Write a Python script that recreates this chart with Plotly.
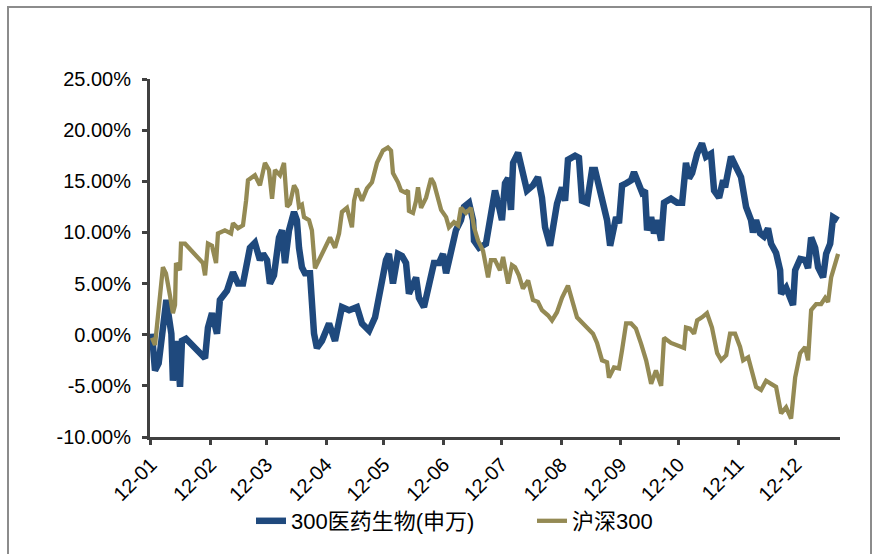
import plotly.graph_objects as go

# ---- data (day offset from 2012-01-01, cumulative return in %) ----
month_ticks = [0, 31, 60, 91, 121, 152, 182, 213, 244, 274, 305, 335]
month_labels = ["12-01", "12-02", "12-03", "12-04", "12-05", "12-06",
                "12-07", "12-08", "12-09", "12-10", "12-11", "12-12"]
y_ticks = [-10, -5, 0, 5, 10, 15, 20, 25]

med_days = [0.5, 2.1, 4.0, 8.0, 10.6, 11.4, 13.5, 15.1, 16.1, 18.2, 28.1, 29.6, 31.7, 34.3, 35.8,
            39.5, 42.6, 45.2, 47.8, 49.4, 51.4, 54.0, 56.6, 58.2, 60.3, 61.8, 63.9, 66.5, 68.1,
            69.6, 71.7, 74.3, 75.8, 76.9, 78.4, 80.0, 82.6, 84.7, 86.2, 88.8, 92.5, 95.6, 99.2,
            102.9, 107.0, 109.6, 113.3, 116.4, 119.5, 122.1, 123.6, 125.7, 128.3, 130.4, 132.5,
            134.0, 137.7, 139.2, 141.8, 144.4, 147.0, 149.6, 151.7, 153.3, 155.9, 158.4, 161.0,
            162.6, 165.2, 167.3, 167.8, 170.4, 174.0, 176.6, 178.7, 180.8, 182.3, 183.9, 185.5,
            187.0, 188.1, 190.7, 193.2, 195.3, 198.4, 201.0, 203.1, 204.7, 207.3, 210.9, 213.5,
            215.1, 216.6, 220.3, 222.3, 223.9, 226.5, 229.1, 230.7, 232.2, 234.8, 236.9, 238.5,
            241.6, 243.1, 244.7, 246.8, 249.4, 250.9, 252.5, 255.1, 256.6, 257.7, 259.8, 261.3,
            262.9, 265.0, 266.5, 270.1, 273.3, 275.9, 277.9, 279.5, 281.1, 283.7, 286.2, 288.3,
            290.9, 292.5, 295.1, 297.2, 298.2, 301.3, 303.9, 306.5, 309.1, 311.7, 312.7, 314.3,
            316.4, 318.4, 320.5, 322.1, 324.7, 326.8, 327.3, 329.9, 332.0, 333.5, 334.6, 337.2,
            339.8, 341.3, 342.9, 345.0, 346.5, 349.1, 350.7, 352.8, 354.3, 356.9]
med_vals = [0.1, -3.5, -2.8, 3.4, 0.1, -4.5, -0.6, -5.1, -0.6, -0.4, -2.3, 0.7, 2.1, 0.1, 3.4,
            4.3, 6.1, 5.0, 5.0, 7.0, 8.5, 9.0, 7.3, 7.9, 7.3, 5.0, 5.8, 9.5, 10.2,
            7.0, 10.2, 12.0, 11.2, 8.5, 6.6, 6.0, 6.0, 0.1, -1.3, -0.6, 1.1, -0.6, 2.7,
            2.4, 2.7, 1.1, 0.4, 1.7, 5.0, 7.3, 7.9, 5.0, 7.9, 7.7, 7.0,
            4.0, 5.6, 3.6, 2.7, 4.6, 7.0, 7.0, 7.9, 6.0, 7.9, 10.2, 11.2,
            12.5, 12.9, 11.2, 9.2, 8.5, 8.9, 11.8, 14.1, 12.5, 11.2, 14.8, 15.3,
            12.2, 16.8, 17.8, 15.8, 14.1, 14.6, 15.4, 13.4, 10.5, 8.7, 12.8, 14.4,
            13.1, 17.1, 17.5, 17.3, 13.1, 12.9, 16.1, 16.1, 14.9, 13.4, 11.2, 8.7,
            11.5, 10.9, 14.6, 14.8, 15.1, 15.9, 15.1, 13.9, 14.1, 10.2, 11.5, 9.9,
            11.2, 9.2, 12.9, 13.3, 12.9, 12.9, 16.8, 15.3, 15.8, 17.7, 18.7, 17.4,
            17.7, 14.1, 13.4, 15.1, 14.4, 17.4, 16.4, 15.4, 12.5, 11.2, 10.0, 11.2,
            9.9, 9.6, 10.4, 8.9, 8.0, 6.3, 4.0, 4.6, 3.6, 2.9, 6.3, 7.4,
            7.3, 6.5, 9.5, 8.5, 6.6, 5.6, 7.9, 8.9, 11.5, 11.2]

hs_days = [0.5, 2.1, 6.2, 7.8, 9.9, 11.4, 12.5, 13.0, 15.1, 15.6, 17.7, 27.0, 28.1, 29.6, 31.7,
           33.8, 34.8, 38.4, 41.6, 42.6, 45.2, 47.8, 49.4, 50.4, 54.0, 56.6, 59.2, 61.3, 62.9,
           64.4, 67.0, 69.1, 70.7, 72.2, 74.3, 75.8, 76.9, 78.4, 79.5, 82.1, 83.6, 85.2, 87.3,
           90.4, 93.0, 95.6, 97.7, 99.2, 101.8, 104.4, 105.5, 107.0, 109.6, 112.2, 114.8, 117.4,
           120.5, 123.1, 124.7, 125.7, 128.3, 129.9, 132.0, 133.5, 134.0, 136.1, 137.7, 138.7,
           140.3, 142.9, 145.5, 147.0, 149.1, 150.7, 153.3, 154.8, 157.4, 159.5, 161.0, 163.6,
           166.2, 167.8, 169.9, 172.5, 175.1, 176.6, 178.7, 181.3, 182.9, 185.5, 187.5, 189.1,
           191.1, 193.2, 195.9, 198.4, 201.0, 203.1, 206.2, 208.3, 210.9, 213.5, 216.6, 218.7,
           221.3, 224.4, 228.1, 229.6, 231.7, 234.3, 236.9, 237.9, 240.5, 243.1, 244.7, 246.8,
           249.4, 251.9, 254.6, 257.2, 259.8, 262.3, 265.0, 266.5, 270.1, 273.3, 276.9, 277.9,
           280.0, 282.1, 283.7, 286.2, 288.8, 291.4, 294.1, 296.2, 298.8, 300.8, 303.4, 306.0,
           307.6, 310.2, 311.7, 314.3, 316.9, 319.5, 322.1, 324.7, 327.3, 329.9, 332.5, 334.6,
           337.2, 339.8, 341.3, 342.9, 345.5, 348.1, 350.2, 351.7, 353.3, 355.4, 356.9]
hs_vals = [-0.3, -1.0, 6.6, 6.0, 3.8, 2.1, 2.9, 7.0, 6.3, 8.9, 8.9, 7.0, 5.8, 8.9, 8.7,
           7.0, 9.9, 10.2, 9.9, 10.9, 10.4, 10.7, 13.1, 15.1, 15.6, 14.6, 16.8, 16.1, 13.3,
           16.1, 15.6, 16.8, 12.5, 12.8, 14.6, 14.1, 12.5, 12.7, 11.5, 11.2, 10.2, 6.5, 7.3,
           8.5, 9.5, 8.5, 9.9, 12.0, 12.4, 10.5, 13.1, 14.3, 13.1, 14.3, 14.9, 16.8,
           18.0, 18.3, 18.0, 15.8, 14.9, 14.1, 13.9, 14.1, 12.1, 11.9, 13.1, 14.4,
           12.4, 13.4, 15.3, 14.8, 13.4, 12.2, 11.5, 10.5, 11.0, 10.7, 12.4, 11.9,
           12.4, 10.5, 9.2, 8.2, 5.6, 7.3, 7.3, 6.3, 7.6, 5.0, 6.8, 6.6,
           5.8, 4.5, 5.3, 3.4, 3.2, 2.4, 1.9, 1.4, 2.2, 3.6, 4.8, 3.4,
           1.7, 1.1, 0.4, 0.1, -0.8, -2.5, -2.7, -4.2, -3.2, -3.3, -1.5, 1.1,
           1.1, 0.6, -0.9, -2.5, -4.8, -3.5, -5.0, -0.3, -0.8, -1.0, -1.3, 0.7,
           0.6, 0.1, 1.4, 1.7, 2.1, 0.7, -1.8, -2.5, -2.0, 0.1, 0.1, -1.2,
           -2.5, -2.2, -3.2, -5.1, -5.4, -4.5, -4.8, -5.1, -7.7, -7.1, -8.2, -4.2,
           -1.8, -1.2, -2.5, 2.4, 3.0, 3.0, 3.6, 3.2, 5.6, 7.0, 7.9]

series_names = ["300医药生物(申万)", "沪深300"]
series_colors = ["#1F497D", "#948A54"]

fig = go.Figure()
fig.add_trace(go.Scatter(x=med_days, y=med_vals, mode="lines", name=series_names[0],
                         line=dict(color=series_colors[0], width=6.5)))
fig.add_trace(go.Scatter(x=hs_days, y=hs_vals, mode="lines", name=series_names[1],
                         line=dict(color=series_colors[1], width=4.3)))

W, H = 876, 554
L, R, T, B = 150, 36, 79, 117
pw, ph = W - L - R, H - T - B

def px2paper_x(px):
    return (px - L) / pw

def px2paper_y(py):
    return (H - B - py) / ph

axis_col = "#404040"
fig.update_layout(
    width=W, height=H,
    margin=dict(l=L, r=R, t=T, b=B, pad=0, autoexpand=False),
    paper_bgcolor="white", plot_bgcolor="white",
    font=dict(family="Liberation Sans, Arial, Noto Sans CJK SC", size=20, color="#000000"),
    showlegend=True,
    legend=dict(orientation="h", x=px2paper_x(251), xanchor="left",
                y=px2paper_y(500), yanchor="top",
                font=dict(family="Liberation Sans, Noto Sans CJK SC", size=22, color="#000000"),
                bgcolor="rgba(0,0,0,0)", itemwidth=30, entrywidth=236, tracegroupgap=0),
    xaxis=dict(range=[-0.5, 357.9], tickmode="array", tickvals=month_ticks,
               ticktext=month_labels, tickangle=-45, showgrid=False, zeroline=False,
               showline=True, linecolor=axis_col, linewidth=3, automargin=False,
               ticks="outside", ticklen=5, tickwidth=3, tickcolor=axis_col,
               tickfont=dict(size=20, family="Liberation Sans, Arial")),
    yaxis=dict(range=[-10, 25], tickmode="array", tickvals=y_ticks,
               ticktext=[f"{v:.2f}%" for v in y_ticks], showgrid=False, zeroline=False,
               showline=True, linecolor=axis_col, linewidth=3, automargin=False,
               ticks="outside", ticklen=5, tickwidth=3, tickcolor=axis_col,
               ticklabelstandoff=7,
               tickfont=dict(size=20, family="Liberation Sans, Arial")),
)

# outer chart border
fig.add_shape(type="rect", xref="paper", yref="paper",
              x0=px2paper_x(8), x1=px2paper_x(871), y0=px2paper_y(570), y1=px2paper_y(7),
              line=dict(color="#8C8C8C", width=2), fillcolor="rgba(0,0,0,0)", layer="below")

fig.write_html("out.html")
